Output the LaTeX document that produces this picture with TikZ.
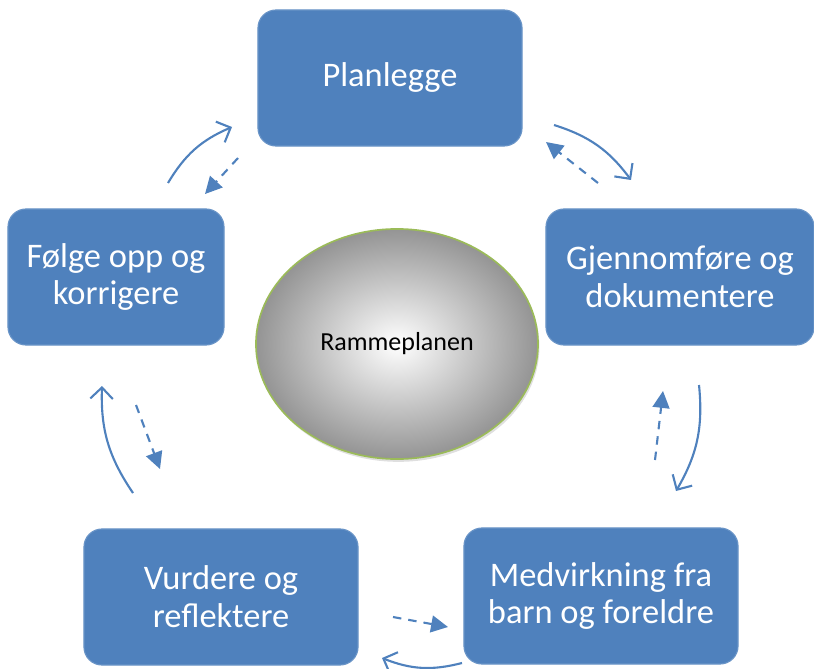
\documentclass[tikz,border=0pt]{standalone}
\usepackage{fontspec}
\setmainfont{Carlito}
\usetikzlibrary{shapes.geometric,shadows,arrows.meta}
\definecolor{boxblue}{HTML}{4F81BD}
\definecolor{rimgreen}{HTML}{9BBB59}
\def\StepH{3.4cm}

\begin{document}
\begin{tikzpicture}[x=0.025cm,y=-0.025cm,
    stepbox/.style={fill=boxblue,draw=boxblue!85!white,line width=0.8pt,rounded corners=0.45cm,
      minimum height=\StepH,text=white,align=center,font=\fontsize{24.5}{27}\selectfont},
    cycle/.style={draw=boxblue,line width=1.5pt,-{Straight Barb[length=8pt,width=16pt,line width=1.5pt]},bend left=18},
    back/.style={draw=boxblue,line width=1.5pt,dash pattern=on 6pt off 5pt,-{Triangle[length=12pt,width=12pt]}}]
  \useasboundingbox (0,0) rectangle (814,669);

  % boxes
  \node[stepbox,minimum width=6.6cm] (plan) at (390,78) {Planlegge};
  \node[stepbox,minimum width=6.7cm] (gjen) at (680,277) {Gjennomføre og\\dokumentere};
  \node[stepbox,minimum width=6.85cm] (medv) at (601,596) {Medvirkning fra\\barn og foreldre};
  \node[stepbox,minimum width=6.85cm] (vurd) at (221,597) {Vurdere og\\reflektere};
  \node[stepbox,minimum width=5.4cm] (folg) at (116,277) {Følge opp og\\korrigere};

  % centre
  \node[ellipse,draw=rimgreen,line width=1.2pt,shading=radial,inner color=white,outer color=black!42,
    minimum width=7.05cm,minimum height=5.75cm,drop shadow={opacity=0.25,shadow xshift=1pt,shadow yshift=-2pt},
    font=\fontsize{18.5}{22}\selectfont] (ramme) at (397,344) {Rammeplanen};

  % arrow ends
  \coordinate (a1) at (168,183); \coordinate (a2) at (232,127);
  \coordinate (b1) at (238,158); \coordinate (b2) at (205,194);
  \coordinate (c1) at (554,125); \coordinate (c2) at (631,180);
  \coordinate (d1) at (598,183); \coordinate (d2) at (546,142);
  \coordinate (e1) at (699,385); \coordinate (e2) at (676,491);
  \coordinate (f1) at (655,460); \coordinate (f2) at (663,391);
  \coordinate (g1) at (393,617); \coordinate (g2) at (448,627);
  \coordinate (h1) at (462,663); \coordinate (h2) at (382,658);
  \coordinate (i1) at (133,493); \coordinate (i2) at (102,386);
  \coordinate (j1) at (136,405); \coordinate (j2) at (160,469);

  \draw[cycle] (a1) to (a2);
  \draw[back] (b1) -- (b2);
  \draw[cycle] (c1) to (c2);
  \draw[back] (d1) -- (d2);
  \draw[cycle] (e1) to (e2);
  \draw[back] (f1) -- (f2);
  \draw[back] (g1) -- (g2);
  \draw[cycle] (h1) to (h2);
  \draw[cycle] (i1) to (i2);
  \draw[back] (j1) -- (j2);
\end{tikzpicture}
\end{document}
